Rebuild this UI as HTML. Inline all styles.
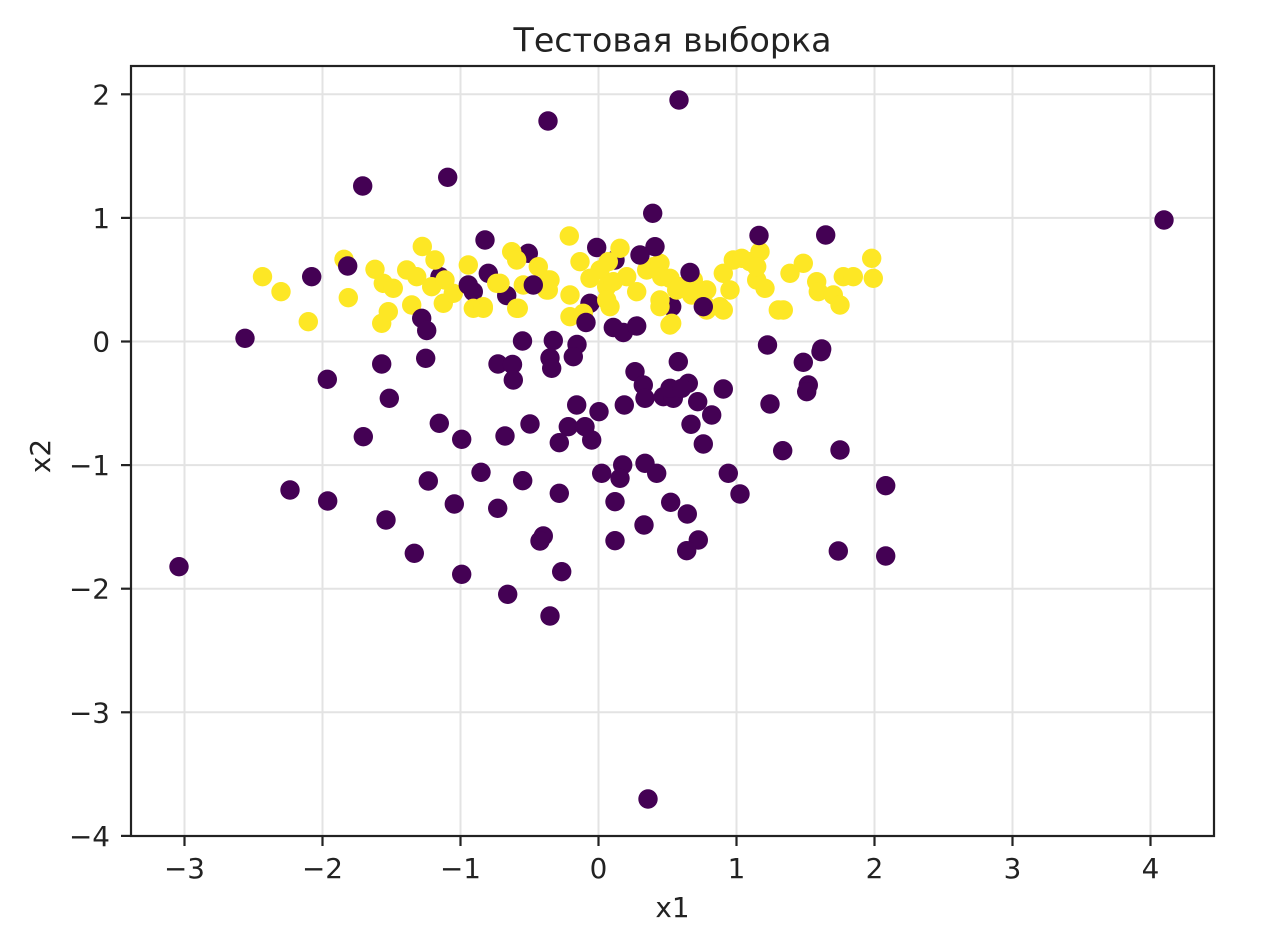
<!DOCTYPE html>
<html>
<head>
<meta charset="utf-8">
<style>
html,body{margin:0;padding:0;background:#fff;}
svg{display:block;}
text{font-family:"DejaVu Sans","Liberation Sans",sans-serif;fill:#222;}
</style>
</head>
<body>
<svg width="1270" height="942" viewBox="0 0 1270 942" xmlns="http://www.w3.org/2000/svg">
<rect x="0" y="0" width="1270" height="942" fill="#fff"/>
<!-- grid -->
<g stroke="#e3e3e3" stroke-width="2">
<line x1="184.5" y1="66" x2="184.5" y2="836"/>
<line x1="322.5" y1="66" x2="322.5" y2="836"/>
<line x1="460.5" y1="66" x2="460.5" y2="836"/>
<line x1="598.5" y1="66" x2="598.5" y2="836"/>
<line x1="736.5" y1="66" x2="736.5" y2="836"/>
<line x1="874.5" y1="66" x2="874.5" y2="836"/>
<line x1="1012.5" y1="66" x2="1012.5" y2="836"/>
<line x1="1150.5" y1="66" x2="1150.5" y2="836"/>
<line x1="131" y1="94.3" x2="1214" y2="94.3"/>
<line x1="131" y1="217.9" x2="1214" y2="217.9"/>
<line x1="131" y1="341.5" x2="1214" y2="341.5"/>
<line x1="131" y1="465.1" x2="1214" y2="465.1"/>
<line x1="131" y1="588.7" x2="1214" y2="588.7"/>
<line x1="131" y1="712.3" x2="1214" y2="712.3"/>
</g>
<!-- purple behind -->
<g fill="#440154">
<circle cx="440" cy="276.7" r="9.7"/><circle cx="596.7" cy="247.5" r="9.7"/><circle cx="615" cy="260" r="9.7"/>
<circle cx="488.3" cy="273.3" r="9.7"/><circle cx="506.7" cy="295.5" r="9.7"/><circle cx="590" cy="303.3" r="9.7"/>
<circle cx="671.7" cy="306.7" r="9.7"/><circle cx="473.3" cy="291.7" r="9.7"/><circle cx="528.3" cy="253.3" r="9.7"/>
</g>
<!-- yellow -->
<g fill="#fde725">
<circle cx="262.5" cy="276.7" r="9.7"/><circle cx="281" cy="291.7" r="9.7"/><circle cx="308.3" cy="321.7" r="9.7"/>
<circle cx="344" cy="259.3" r="9.7"/><circle cx="348.3" cy="297.7" r="9.7"/><circle cx="375" cy="269.3" r="9.7"/>
<circle cx="381.7" cy="323.3" r="9.7"/><circle cx="388.3" cy="311.7" r="9.7"/><circle cx="383.3" cy="283.3" r="9.7"/>
<circle cx="393.3" cy="288.3" r="9.7"/><circle cx="406.7" cy="270" r="9.7"/><circle cx="411.7" cy="305" r="9.7"/>
<circle cx="422.3" cy="246.5" r="9.7"/><circle cx="416.7" cy="276.7" r="9.7"/><circle cx="435" cy="260" r="9.7"/>
<circle cx="431.7" cy="286.7" r="9.7"/><circle cx="445" cy="280" r="9.7"/><circle cx="443.3" cy="303.3" r="9.7"/>
<circle cx="453.3" cy="293.3" r="9.7"/><circle cx="468.3" cy="265" r="9.7"/><circle cx="473.3" cy="308.3" r="9.7"/>
<circle cx="483.3" cy="308.3" r="9.7"/><circle cx="496.7" cy="283.3" r="9.7"/><circle cx="511.7" cy="251.7" r="9.7"/>
<circle cx="516.7" cy="260" r="9.7"/><circle cx="538.3" cy="266.7" r="9.7"/><circle cx="523.3" cy="285" r="9.7"/>
<circle cx="516.7" cy="308.3" r="9.7"/><circle cx="548.3" cy="280" r="9.7"/><circle cx="548.3" cy="290" r="9.7"/>
<circle cx="569.3" cy="236" r="9.7"/><circle cx="580" cy="261.7" r="9.7"/><circle cx="570" cy="295" r="9.7"/>
<circle cx="570" cy="316.7" r="9.7"/><circle cx="583.3" cy="313.3" r="9.7"/><circle cx="600" cy="270" r="9.7"/>
<circle cx="500" cy="283.3" r="9.7"/><circle cx="483.3" cy="306.7" r="9.7"/><circle cx="518.3" cy="308.3" r="9.7"/>
<circle cx="546.7" cy="290" r="9.7"/><circle cx="550" cy="280" r="9.7"/>
<circle cx="590" cy="278.3" r="9.7"/><circle cx="606.7" cy="286.7" r="9.7"/><circle cx="610" cy="306.7" r="9.7"/>
<circle cx="608.3" cy="261.7" r="9.7"/><circle cx="620" cy="248.3" r="9.7"/><circle cx="613.3" cy="281.7" r="9.7"/>
<circle cx="606.7" cy="300" r="9.7"/><circle cx="626.7" cy="276.7" r="9.7"/><circle cx="636.7" cy="291.7" r="9.7"/>
<circle cx="646.7" cy="270" r="9.7"/><circle cx="653.3" cy="266.7" r="9.7"/><circle cx="660" cy="263.3" r="9.7"/>
<circle cx="661.7" cy="276.7" r="9.7"/><circle cx="660" cy="300" r="9.7"/><circle cx="660" cy="306.7" r="9.7"/>
<circle cx="670" cy="325" r="9.7"/><circle cx="671.7" cy="323.3" r="9.7"/><circle cx="670" cy="278.3" r="9.7"/>
<circle cx="676.7" cy="290" r="9.7"/><circle cx="680" cy="286.7" r="9.7"/><circle cx="691.7" cy="295" r="9.7"/>
<circle cx="693.3" cy="280" r="9.7"/><circle cx="700" cy="291.7" r="9.7"/><circle cx="706.7" cy="290" r="9.7"/>
<circle cx="706.7" cy="306.7" r="9.7"/><circle cx="706.7" cy="310" r="9.7"/><circle cx="720" cy="306.7" r="9.7"/>
<circle cx="723.3" cy="273.3" r="9.7"/><circle cx="723.3" cy="310" r="9.7"/><circle cx="730" cy="290" r="9.7"/>
<circle cx="733.3" cy="260" r="9.7"/><circle cx="741.7" cy="258.3" r="9.7"/><circle cx="750" cy="261.7" r="9.7"/>
<circle cx="760" cy="251.7" r="9.7"/><circle cx="756.7" cy="280" r="9.7"/><circle cx="756.7" cy="266.7" r="9.7"/>
<circle cx="765" cy="288.3" r="9.7"/><circle cx="778.3" cy="310" r="9.7"/><circle cx="783.3" cy="310" r="9.7"/>
<circle cx="790" cy="273.3" r="9.7"/><circle cx="803.3" cy="263.3" r="9.7"/><circle cx="816.7" cy="281.7" r="9.7"/>
<circle cx="818.3" cy="291.7" r="9.7"/><circle cx="833.3" cy="295" r="9.7"/><circle cx="840" cy="305" r="9.7"/>
<circle cx="843.3" cy="276.7" r="9.7"/><circle cx="853.3" cy="276.7" r="9.7"/><circle cx="871.7" cy="258.3" r="9.7"/>
<circle cx="873.3" cy="278.3" r="9.7"/>
</g>
<!-- purple on top -->
<g fill="#440154">
<circle cx="548" cy="121" r="9.7"/><circle cx="679" cy="100" r="9.7"/><circle cx="447.7" cy="177.3" r="9.7"/>
<circle cx="362.7" cy="186" r="9.7"/><circle cx="1164" cy="220" r="9.7"/><circle cx="652.7" cy="213.3" r="9.7"/>
<circle cx="485" cy="240" r="9.7"/><circle cx="640" cy="255" r="9.7"/><circle cx="655" cy="246.7" r="9.7"/>
<circle cx="759" cy="235.5" r="9.7"/><circle cx="825.7" cy="235" r="9.7"/><circle cx="311.7" cy="276.7" r="9.7"/>
<circle cx="347.7" cy="266" r="9.7"/><circle cx="468.3" cy="285" r="9.7"/><circle cx="533.3" cy="285" r="9.7"/>
<circle cx="421.7" cy="318.3" r="9.7"/><circle cx="426.7" cy="330.5" r="9.7"/><circle cx="586" cy="322.5" r="9.7"/>
<circle cx="690" cy="272.5" r="9.7"/><circle cx="703.3" cy="306.7" r="9.7"/><circle cx="613.3" cy="327.5" r="9.7"/>
<circle cx="623.3" cy="332.5" r="9.7"/><circle cx="636.7" cy="326" r="9.7"/><circle cx="245" cy="338.3" r="9.7"/>
<circle cx="522.5" cy="341" r="9.7"/><circle cx="553.3" cy="340.5" r="9.7"/><circle cx="577" cy="344.5" r="9.7"/>
<circle cx="767.5" cy="345" r="9.7"/><circle cx="821.7" cy="349" r="9.7"/>
<circle cx="381.7" cy="364" r="9.7"/><circle cx="425.7" cy="358.3" r="9.7"/><circle cx="327.3" cy="379.3" r="9.7"/>
<circle cx="389.3" cy="398.3" r="9.7"/><circle cx="498" cy="364" r="9.7"/><circle cx="512.5" cy="364.5" r="9.7"/>
<circle cx="513.3" cy="380" r="9.7"/><circle cx="550" cy="358" r="9.7"/><circle cx="551.7" cy="368.3" r="9.7"/>
<circle cx="573.3" cy="356.7" r="9.7"/><circle cx="678.3" cy="361.7" r="9.7"/><circle cx="635" cy="371.7" r="9.7"/>
<circle cx="643.3" cy="385" r="9.7"/><circle cx="645" cy="398.3" r="9.7"/><circle cx="663.3" cy="396.7" r="9.7"/>
<circle cx="673.3" cy="398.3" r="9.7"/><circle cx="670" cy="388.3" r="9.7"/><circle cx="688.3" cy="383.3" r="9.7"/>
<circle cx="681.7" cy="388.3" r="9.7"/><circle cx="697.7" cy="401.7" r="9.7"/><circle cx="723.3" cy="389" r="9.7"/>
<circle cx="711.7" cy="415" r="9.7"/><circle cx="691" cy="424.3" r="9.7"/><circle cx="703.3" cy="444" r="9.7"/>
<circle cx="624.3" cy="405" r="9.7"/><circle cx="599" cy="411.7" r="9.7"/><circle cx="576.7" cy="405" r="9.7"/>
<circle cx="530" cy="424" r="9.7"/><circle cx="505" cy="436" r="9.7"/><circle cx="568.3" cy="426.7" r="9.7"/>
<circle cx="585" cy="426.7" r="9.7"/><circle cx="591.7" cy="440" r="9.7"/><circle cx="559.3" cy="442.7" r="9.7"/>
<circle cx="439.3" cy="423.3" r="9.7"/><circle cx="363.3" cy="436.7" r="9.7"/><circle cx="461.7" cy="439.3" r="9.7"/>
<circle cx="803.3" cy="362.3" r="9.7"/><circle cx="821" cy="351.7" r="9.7"/><circle cx="808.3" cy="385" r="9.7"/>
<circle cx="806.7" cy="391.7" r="9.7"/><circle cx="770" cy="404" r="9.7"/><circle cx="782.7" cy="450.7" r="9.7"/>
<circle cx="840" cy="450" r="9.7"/><circle cx="728.3" cy="473.3" r="9.7"/><circle cx="740" cy="494" r="9.7"/>
<circle cx="885.7" cy="485.7" r="9.7"/><circle cx="601.7" cy="473.3" r="9.7"/><circle cx="622.7" cy="465" r="9.7"/>
<circle cx="620" cy="478.3" r="9.7"/><circle cx="645" cy="463.3" r="9.7"/><circle cx="656.7" cy="473.3" r="9.7"/>
<circle cx="522.7" cy="480.7" r="9.7"/><circle cx="559.3" cy="493.3" r="9.7"/><circle cx="615" cy="501.7" r="9.7"/>
<circle cx="670.7" cy="502.3" r="9.7"/><circle cx="687.3" cy="514" r="9.7"/><circle cx="644" cy="525" r="9.7"/>
<circle cx="543.3" cy="536" r="9.7"/><circle cx="540" cy="541" r="9.7"/><circle cx="615" cy="540.7" r="9.7"/>
<circle cx="698.3" cy="540" r="9.7"/><circle cx="686.7" cy="550.7" r="9.7"/><circle cx="838.3" cy="551" r="9.7"/>
<circle cx="885.7" cy="556" r="9.7"/><circle cx="561.7" cy="571.7" r="9.7"/><circle cx="481" cy="472.3" r="9.7"/>
<circle cx="428.3" cy="481" r="9.7"/><circle cx="290" cy="490" r="9.7"/><circle cx="327.7" cy="501" r="9.7"/>
<circle cx="454.3" cy="504" r="9.7"/><circle cx="497.7" cy="508.3" r="9.7"/><circle cx="386" cy="520" r="9.7"/>
<circle cx="414.3" cy="553.3" r="9.7"/><circle cx="179" cy="566.7" r="9.7"/><circle cx="461.7" cy="574.3" r="9.7"/>
<circle cx="507.7" cy="594.3" r="9.7"/><circle cx="550" cy="616" r="9.7"/><circle cx="648" cy="799" r="9.7"/>
</g>
<!-- spines -->
<rect x="131" y="66" width="1083" height="770" fill="none" stroke="#222" stroke-width="2.2"/>
<!-- ticks -->
<g stroke="#222" stroke-width="2.2">
<line x1="184.5" y1="836" x2="184.5" y2="846"/>
<line x1="322.5" y1="836" x2="322.5" y2="846"/>
<line x1="460.5" y1="836" x2="460.5" y2="846"/>
<line x1="598.5" y1="836" x2="598.5" y2="846"/>
<line x1="736.5" y1="836" x2="736.5" y2="846"/>
<line x1="874.5" y1="836" x2="874.5" y2="846"/>
<line x1="1012.5" y1="836" x2="1012.5" y2="846"/>
<line x1="1150.5" y1="836" x2="1150.5" y2="846"/>
<line x1="121" y1="94.3" x2="131" y2="94.3"/>
<line x1="121" y1="217.9" x2="131" y2="217.9"/>
<line x1="121" y1="341.5" x2="131" y2="341.5"/>
<line x1="121" y1="465.1" x2="131" y2="465.1"/>
<line x1="121" y1="588.7" x2="131" y2="588.7"/>
<line x1="121" y1="712.3" x2="131" y2="712.3"/>
<line x1="121" y1="835.9" x2="131" y2="835.9"/>
</g>
<!-- tick labels -->
<g font-size="27.8" text-anchor="middle">
<text x="184.5" y="878">−3</text>
<text x="322.5" y="878">−2</text>
<text x="460.5" y="878">−1</text>
<text x="598.5" y="878">0</text>
<text x="736.5" y="878">1</text>
<text x="874.5" y="878">2</text>
<text x="1012.5" y="878">3</text>
<text x="1150.5" y="878">4</text>
</g>
<g font-size="27.8" text-anchor="end">
<text x="110" y="104.3">2</text>
<text x="110" y="227.9">1</text>
<text x="110" y="351.5">0</text>
<text x="110" y="475.1">−1</text>
<text x="110" y="598.7">−2</text>
<text x="110" y="722.3">−3</text>
<text x="110" y="845.9">−4</text>
</g>
<text x="672.5" y="51.7" font-size="33.3" text-anchor="middle">Тестовая выборка</text>
<text x="672.5" y="917" font-size="27.8" text-anchor="middle">x1</text>
<text x="50" y="456" font-size="27.8" text-anchor="middle" transform="rotate(-90 50 456)">x2</text>
</svg>
</body>
</html>
